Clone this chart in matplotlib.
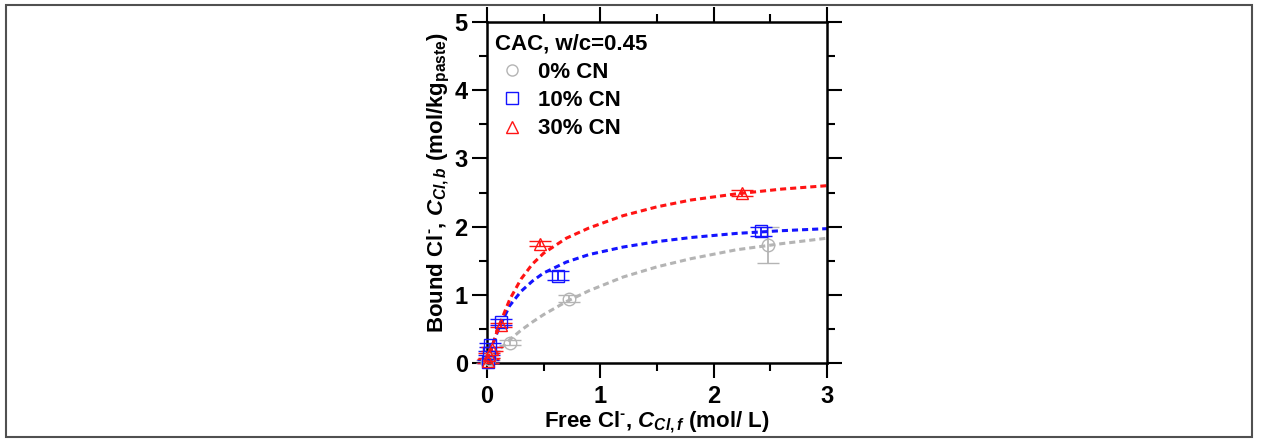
import matplotlib
matplotlib.use("Agg")
import matplotlib.pyplot as plt
from matplotlib.patches import Rectangle
from matplotlib.ticker import MultipleLocator

plt.rcParams['font.family'] = ['Liberation Sans', 'DejaVu Sans']
plt.rcParams['font.weight'] = 'bold'
plt.rcParams['mathtext.fontset'] = 'custom'
plt.rcParams['mathtext.rm'] = 'Liberation Sans:bold'
plt.rcParams['mathtext.bf'] = 'Liberation Sans:bold'
plt.rcParams['mathtext.it'] = 'Liberation Sans:bold:italic'

# measured points (free Cl, bound Cl, error)
gray_x = [0.0, 0.02, 0.20, 0.72, 2.48]
gray_y = [0.02, 0.06, 0.30, 0.94, 1.73]
gray_err = [0.02, 0.02, 0.03, 0.05, 0.27]

blue_x = [0.01, 0.02, 0.03, 0.12, 0.63, 2.42]
blue_y = [0.02, 0.14, 0.27, 0.60, 1.28, 1.93]
blue_err = [0.02, 0.03, 0.03, 0.04, 0.07, 0.07]

red_x = [0.01, 0.02, 0.04, 0.12, 0.47, 2.25]
red_y = [0.03, 0.11, 0.20, 0.56, 1.75, 2.49]
red_err = [0.03, 0.03, 0.03, 0.03, 0.04, 0.04]

# fitted isotherms
fit_x = [0.0, 0.05, 0.1, 0.2, 0.3, 0.4, 0.5, 0.7, 0.9, 1.2, 1.5, 1.8, 2.2, 2.6, 3.0]
gray_fit = [0.0, 0.09, 0.18, 0.34, 0.48, 0.60, 0.71, 0.90, 1.06, 1.26, 1.41, 1.53, 1.66, 1.75, 1.83]
blue_fit = [0.0, 0.27, 0.49, 0.84, 1.05, 1.20, 1.32, 1.48, 1.59, 1.70, 1.78, 1.84, 1.90, 1.94, 1.97]
red_fit = [0.0, 0.27, 0.52, 0.93, 1.23, 1.45, 1.61, 1.83, 1.98, 2.16, 2.29, 2.39, 2.48, 2.55, 2.60]

labels = ['0% CN', '10% CN', '30% CN']
c_gray = '#b4b4b4'
c_blue = '#1414ff'
c_red = '#ff1414'

fig = plt.figure(figsize=(12.61, 4.41), dpi=100)
ax = fig.add_axes([487 / 1261, 1 - 363 / 441, 340 / 1261, 341 / 441])

for fx, col in [(gray_fit, c_gray), (blue_fit, c_blue), (red_fit, c_red)]:
    ax.plot(fit_x, fx, color=col, lw=2.2, dashes=(2.0, 1.3), zorder=2)

series = [(gray_x, gray_y, gray_err, c_gray, 'o'),
          (blue_x, blue_y, blue_err, c_blue, 's'),
          (red_x, red_y, red_err, c_red, '^')]
handles = []
for (x, y, e, col, m), lab in zip(series, labels):
    h = ax.errorbar(x, y, yerr=e, fmt=m, color=col, mfc='none', mec=col,
                    ms=9 if m != '^' else 8, mew=1.0, elinewidth=1.3,
                    capsize=8, capthick=1.6, label=lab, zorder=3, clip_on=False)
    for art in h.lines[1] + h.lines[2]:
        art.set_clip_on(False)
    handles.append(ax.plot([], [], m, color=col, mfc='none', mec=col, ms=8, mew=1.0)[0])

ax.set_xlim(0, 3)
ax.set_ylim(0, 5)
ax.xaxis.set_major_locator(MultipleLocator(1))
ax.xaxis.set_minor_locator(MultipleLocator(0.5))
ax.yaxis.set_major_locator(MultipleLocator(1))
ax.yaxis.set_minor_locator(MultipleLocator(0.5))
ax.tick_params(which='both', direction='out', top=True, right=True, width=1.5,
               labelsize=17, colors='black')
ax.tick_params(which='major', length=10.8)
ax.tick_params(which='minor', length=5.8)
ax.tick_params(axis='x', pad=5)
ax.tick_params(axis='y', pad=3)
for s in ax.spines.values():
    s.set_linewidth(1.8)

ax.set_xlabel(r'Free Cl$^{\text{-}}$, $C_{Cl,f}$ (mol/ L)', fontsize=16, fontweight='bold', labelpad=1)
ax.set_ylabel(r'Bound Cl$^{\text{-}}$, $C_{Cl,b}$ (mol/kg$_{\mathrm{paste}}$)', fontsize=16,
              fontweight='bold', labelpad=1.5)
ax.yaxis.label.set_y(0.53)

leg = ax.legend(handles, labels, title='CAC, w/c=0.45', loc='upper left',
                bbox_to_anchor=(0.005, 0.986), borderaxespad=0, borderpad=0.3,
                frameon=False, title_fontsize=16, handlelength=1.5,
                handletextpad=0.4, labelspacing=0.33, alignment='left',
                prop={'weight': 'bold', 'size': 16})
leg.get_title().set_fontweight('bold')

fig.patches.append(Rectangle((6 / 1261, 4 / 441), 1246 / 1261, 432 / 441,
                             transform=fig.transFigure, fill=False,
                             edgecolor='#505050', lw=1.5))

fig.savefig('out.png', dpi=100)
